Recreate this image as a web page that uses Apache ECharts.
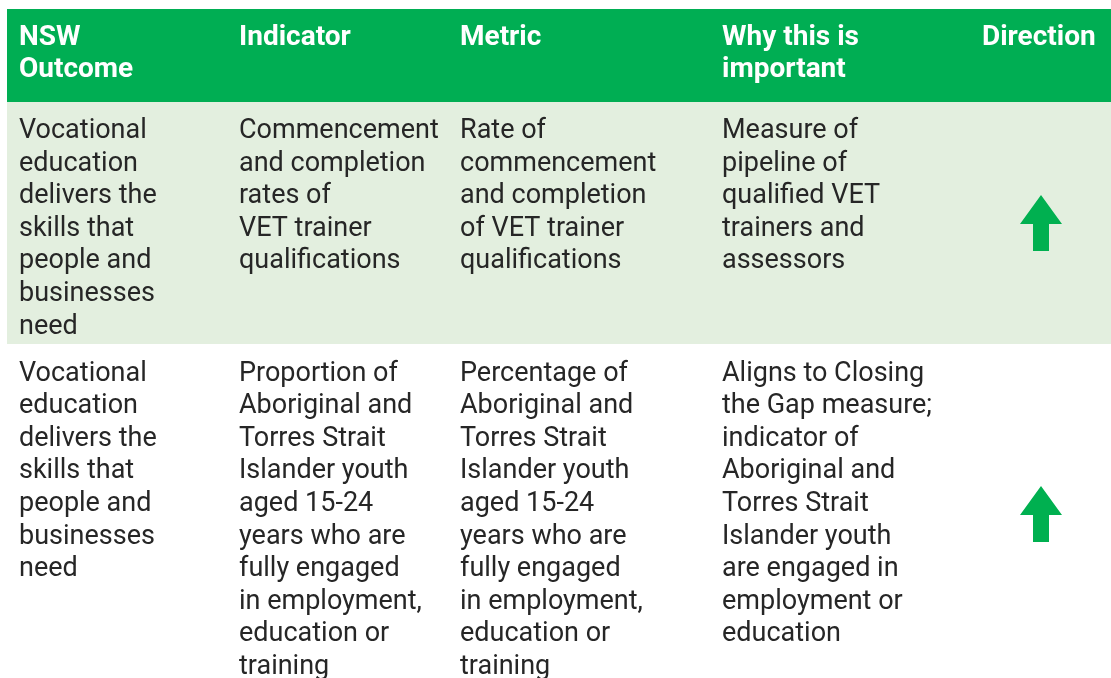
<!DOCTYPE html>
<html lang="en" style="height: 100%">
<head>
    <meta charset="utf-8">
    <title>NSW Outcome indicators</title>
</head>
<body style="height: 100%; margin: 0; background: #fff">
<div id="container" style="width: 1111px; height: 678px"></div>
<script type="text/javascript" src="https://cdn.jsdelivr.net/npm/echarts@6/dist/echarts.min.js"></script>
<script type="text/javascript">
    // table content
    var headers = ['NSW\nOutcome', 'Indicator', 'Metric', 'Why this is\nimportant', 'Direction'];
    var row1 = [
        'Vocational\neducation\ndelivers the\nskills that\npeople and\nbusinesses\nneed',
        'Commencement\nand completion\nrates of\nVET trainer\nqualifications',
        'Rate of\ncommencement\nand completion\nof VET trainer\nqualifications',
        'Measure of\npipeline of\nqualified VET\ntrainers and\nassessors'
    ];
    var row2 = [
        'Vocational\neducation\ndelivers the\nskills that\npeople and\nbusinesses\nneed',
        'Proportion of\nAboriginal and\nTorres Strait\nIslander youth\naged 15-24\nyears who are\nfully engaged\nin employment,\neducation or\ntraining',
        'Percentage of\nAboriginal and\nTorres Strait\nIslander youth\naged 15-24\nyears who are\nfully engaged\nin employment,\neducation or\ntraining',
        'Aligns to Closing\nthe Gap measure;\nindicator of\nAboriginal and\nTorres Strait\nIslander youth\nare engaged in\nemployment or\neducation'
    ];
    var directions = ['up', 'up'];

    var colX = [19, 239, 460, 722, 982];
    var fontFamily = 'Roboto, "Noto Sans", sans-serif';
    var lineH = 32.6;

    var dom = document.getElementById('container');
    var myChart = echarts.init(dom, null, {renderer: 'canvas'});

    var elements = [];
    // backgrounds
    elements.push({type: 'rect', shape: {x: 7, y: 9, width: 1104, height: 93}, style: {fill: '#00ae53'}});
    elements.push({type: 'rect', shape: {x: 7, y: 102, width: 1104, height: 242}, style: {fill: '#e3efdf'}});

    headers.forEach(function (h, i) {
        elements.push({
            type: 'text', x: colX[i], y: 21.5,
            style: {text: h, font: 'bold 28px ' + fontFamily, lineHeight: lineH, fill: '#ffffff', verticalAlign: 'top'}
        });
    });

    function addRow(texts, top) {
        texts.forEach(function (t, i) {
            elements.push({
                type: 'text', x: colX[i], y: top,
                style: {text: t, font: '27px ' + fontFamily, lineHeight: lineH, fill: '#262626', verticalAlign: 'top'}
            });
        });
    }
    addRow(row1, 115);
    addRow(row2, 357.5);

    // arrows
    function arrow(cx, top) {
        return {
            type: 'polygon',
            shape: {points: [[cx, top], [cx + 21, top + 29], [cx + 8, top + 29], [cx + 8, top + 56],
                [cx - 8, top + 56], [cx - 8, top + 29], [cx - 21, top + 29]]},
            style: {fill: '#00b050'}
        };
    }
    var arrowTops = [195, 486];
    directions.forEach(function (d, i) {
        if (d === 'up') elements.push(arrow(1041, arrowTops[i]));
    });

    myChart.setOption({
        animation: false,
        graphic: {elements: elements}
    });

    window.addEventListener('resize', myChart.resize);
</script>
</body>
</html>
